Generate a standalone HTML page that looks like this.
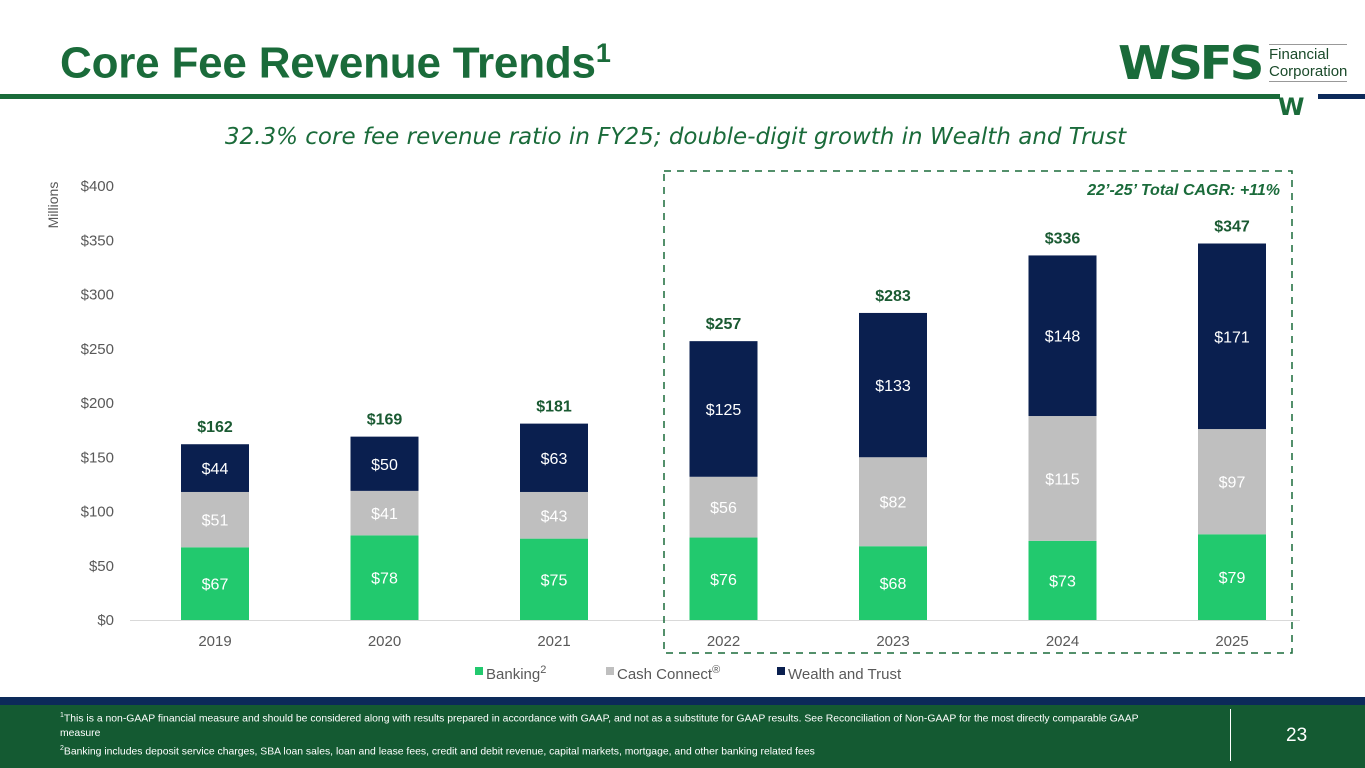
<!DOCTYPE html>
<html><head><meta charset="utf-8">
<style>
body{margin:0;width:1365px;height:768px;position:relative;background:#fff;font-family:"Liberation Sans",sans-serif;overflow:hidden}
.title{position:absolute;left:60px;top:38px;font-family:"Liberation Sans",sans-serif;font-weight:bold;font-size:44px;color:#1a6b3a;letter-spacing:-0.2px}
.title sup{font-size:27px}
</style></head><body>
<div class="title">Core Fee Revenue Trends<sup>1</sup></div>
<div style="position:absolute;left:0;top:94px;width:1280px;height:5px;background:#1a6b3a"></div>
<div style="position:absolute;left:1318px;top:94px;width:47px;height:5px;background:#0c2a5a"></div>
<div style="position:absolute;left:1118px;top:40px;width:240px;height:75px">
 <div style="position:absolute;left:0;top:-4px;font-family:'DejaVu Sans',sans-serif;font-weight:900;font-size:46px;color:#1a6b3a;letter-spacing:-3px;transform:scaleX(1.05);transform-origin:left">WSFS</div>
 <div style="position:absolute;left:151px;top:4px;font-size:15px;line-height:17px;color:#1a4a2a;border-top:1px solid #999;border-bottom:1px solid #999;padding:1px 0">Financial<br>Corporation</div>
 <div style="position:absolute;left:160px;top:53px;font-family:'DejaVu Sans',sans-serif;font-weight:900;font-size:24px;color:#1a6b3a">W</div>
</div>
<div style="position:absolute;left:-7px;width:1365px;top:124px;text-align:center;font-family:'DejaVu Sans',sans-serif;font-style:italic;font-size:23px;color:#1a6b3a">32.3% core fee revenue ratio in FY25; double-digit growth in Wealth and Trust</div>
<svg id="chart" width="1365" height="768" style="position:absolute;left:0;top:0"></svg>
<div style="position:absolute;left:0;top:697px;width:1365px;height:8px;background:#0c2a5a"></div>
<div style="position:absolute;left:0;top:705px;width:1365px;height:63px;background:#145a32;color:#fff">
 <div style="position:absolute;left:60px;top:3px;width:1120px;font-size:10.4px;line-height:15px;font-family:'Liberation Sans',sans-serif"><sup style="font-size:7px">1</sup>This is a non-GAAP financial measure and should be considered along with results prepared in accordance with GAAP, and not as a substitute for GAAP results. See Reconciliation of Non-GAAP for the most directly comparable GAAP measure<br><sup style="font-size:7px">2</sup>Banking includes deposit service charges, SBA loan sales, loan and lease fees, credit and debit revenue, capital markets, mortgage, and other banking related fees</div>
 <div style="position:absolute;left:1230px;top:4px;width:1px;height:52px;background:#fff"></div>
 <div style="position:absolute;left:1286px;top:20px;font-size:19px">23</div>
</div>
<script>
const categories=["2019","2020","2021","2022","2023","2024","2025"];
const banking=[67,78,75,76,68,73,79];
const cashConnect=[51,41,43,56,82,115,97];
const wealth=[44,50,63,125,133,148,171];
const totals=[162,169,181,257,283,336,347];
const yTicks=[0,50,100,150,200,250,300,350,400];
const svg=document.getElementById('chart');
const NS='http://www.w3.org/2000/svg';
function y(v){return 620-v*434/400;}
function x(i){return 215+i*169.5;}
function mk(t,a,txt){const e=document.createElementNS(NS,t);for(const k in a)e.setAttribute(k,a[k]);if(txt!=null)e.textContent=txt;svg.appendChild(e);return e;}
let e;
e=mk('line',{x1:130,x2:1300,y1:620.5,y2:620.5,stroke:'#d9d9d9'});


yTicks.forEach(t=>{e=mk('text',{x:114,y:y(t)+5,'text-anchor':'end','font-size':15,fill:'#595959'},'$'+t);

});
e=mk('text',{x:0,y:0,transform:'translate(58,205) rotate(-90)','text-anchor':'middle','font-size':14,fill:'#595959'},'Millions');


const series=[[banking,'#22c96e','banking'],[cashConnect,'#bfbfbf','cash-connect'],[wealth,'#0a1f4f','wealth-trust']];
categories.forEach((c,i)=>{
 let base=0;
 series.forEach(([arr,col,nm])=>{
  const v=arr[i];
  e=mk('rect',{x:x(i)-34,y:y(base+v),width:68,height:y(base)-y(base+v),fill:col});
  
  
  e=mk('text',{x:x(i),y:(y(base)+y(base+v))/2+6,'text-anchor':'middle','font-size':16,fill:'#fff'},'$'+v);
  
  
  base+=v;
 });
 e=mk('text',{x:x(i),y:y(totals[i])-12,'text-anchor':'middle','font-size':16,'font-weight':'bold',fill:'#1a5a32'},'$'+totals[i]);
 
 
 e=mk('text',{x:x(i),y:646,'text-anchor':'middle','font-size':15,fill:'#595959'},c);
 
 
});
e=mk('rect',{x:664,y:171,width:628,height:482,fill:'none',stroke:'#1a6b3a','stroke-width':1.5,'stroke-dasharray':'7,6'});


e=mk('text',{x:1280,y:195,'text-anchor':'end','font-size':16,'font-weight':'bold','font-style':'italic',fill:'#1a6b3a'},'22’-25’ Total CAGR: +11%');


const legend=[['#22c96e','Banking','2',475],['#bfbfbf','Cash Connect','®',606],['#0a1f4f','Wealth and Trust','',777]];
legend.forEach(([c,l,s,lx])=>{
 e=mk('rect',{x:lx,y:667,width:8,height:8,fill:c});
 
 
 e=mk('text',{x:lx+11,y:679,'font-size':15,fill:'#595959'},l);
 
 
 if(s){const ts=document.createElementNS(NS,'tspan');ts.setAttribute('dy','-6');ts.setAttribute('font-size','11');ts.textContent=s;e.appendChild(ts);}
});
</script>
</body></html>
